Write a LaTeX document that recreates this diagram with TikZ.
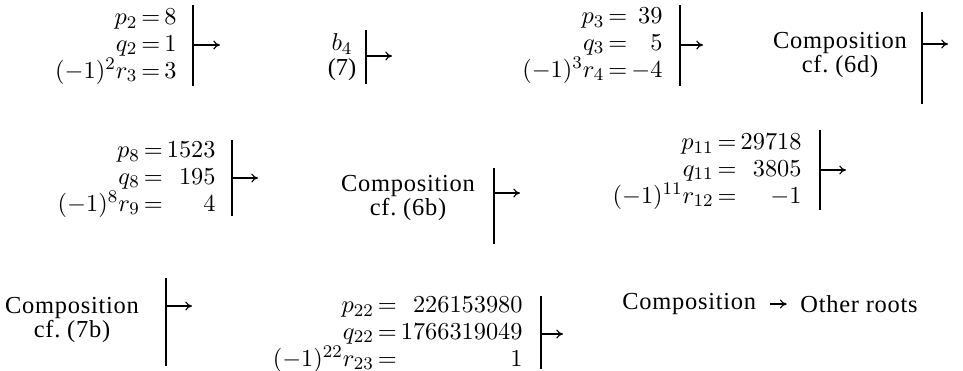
\documentclass[tikz,border=0pt]{standalone}
\usepackage{amsmath}
\usepackage{fontspec}
\setmainfont{Liberation Serif}
\usepackage{tikz}
\usetikzlibrary{positioning,arrows.meta,calc}
\renewcommand{\arraystretch}{0.96}

\begin{document}
\begin{tikzpicture}[x=0.45pt, y=-0.45pt,
    eqs/.style={anchor=east, inner sep=0pt, font=\fontsize{11}{12.5}\selectfont},
    txt/.style={inner sep=0pt, align=center, font=\fontsize{11}{10}\selectfont\addfontfeature{LetterSpace=3}},
    bar/.style={line width=0.8pt},
    arrow/.style={-{To[length=3pt,width=4pt]}, line width=0.5pt},
]
\useasboundingbox (0,0) rectangle (963,370);

% first row
\node[eqs] (pqA) at (177,46) {$\begin{array}{@{}r@{\,{=}\,}r@{}}p_2&8\\ q_2&1\\ \smash{(-1)^2}r_3&3\end{array}$};
\coordinate (barA) at (193,45);
\coordinate (endA) at (220,45);
\draw[bar] (193,5) -- (193,86);
\draw[arrow] (barA) -- (endA);

\node[txt, font=\fontsize{11}{11}\selectfont] (bB) at (342,57) {$b_4$\\(7)};
\coordinate (barB) at (366,56);
\coordinate (endB) at (392,56);
\draw[bar] (366,30) -- (366,84);
\draw[arrow] (barB) -- (endB);

\node[eqs] (pqC) at (663,45) {$\begin{array}{@{}r@{\,{=}\,}r@{}}p_3&39\\ q_3&5\\ \smash{(-1)^3}r_4&-4\end{array}$};
\coordinate (barC) at (680,45);
\coordinate (endC) at (703,45);
\draw[bar] (680,5) -- (680,86);
\draw[arrow] (barC) -- (endC);

\node[txt] (compD) at (840,55) {Composition\\cf.\ (6d)};
\coordinate (barD) at (922,44);
\coordinate (endD) at (948,44);
\draw[bar] (922,12) -- (922,104);
\draw[arrow] (barD) -- (endD);

% second row
\node[eqs] (pqE) at (216,179) {$\begin{array}{@{}r@{\,{=}\,}r@{}}p_8&1523\\ q_8&195\\ \smash{(-1)^8}r_9&4\end{array}$};
\coordinate (barE) at (232,178);
\coordinate (endE) at (258,178);
\draw[bar] (232,140) -- (232,216);
\draw[arrow] (barE) -- (endE);

\node[txt] (compF) at (408,198) {Composition\\cf.\ (6b)};
\coordinate (barF) at (494,193);
\coordinate (endF) at (520,193);
\draw[bar] (494,168) -- (494,244);
\draw[arrow] (barF) -- (endF);

\node[eqs] (pqG) at (802,171) {$\begin{array}{@{}r@{\,{=}\,}r@{}}p_{11}&29718\\ q_{11}&3805\\ \smash{(-1)^{11}}r_{12}&-1\end{array}$};
\coordinate (barG) at (820,170);
\coordinate (endG) at (846,170);
\draw[bar] (820,130) -- (820,210);
\draw[arrow] (barG) -- (endG);

% third row
\node[txt] (compH) at (72,320) {Composition\\cf.\ (7b)};
\coordinate (barH) at (166,306);
\coordinate (endH) at (192,306);
\draw[bar] (166,278) -- (166,366);
\draw[arrow] (barH) -- (endH);

\node[eqs] (pqI) at (523,334) {$\begin{array}{@{}r@{\,{=}\,}r@{}}p_{22}&226153980\\ q_{22}&1766319049\\ \smash{(-1)^{22}}r_{23}&1\end{array}$};
\coordinate (barI) at (541,334);
\coordinate (endI) at (563,334);
\draw[bar] (541,296) -- (541,369);
\draw[arrow] (barI) -- (endI);

\node[txt, anchor=west] (compJ) at (622,304) {Composition};
\node[txt, anchor=west] (roots) at (800,304) {Other roots};
\draw[arrow, shorten <=6pt, shorten >=6pt] (compJ) -- (roots);

\end{tikzpicture}
\end{document}
